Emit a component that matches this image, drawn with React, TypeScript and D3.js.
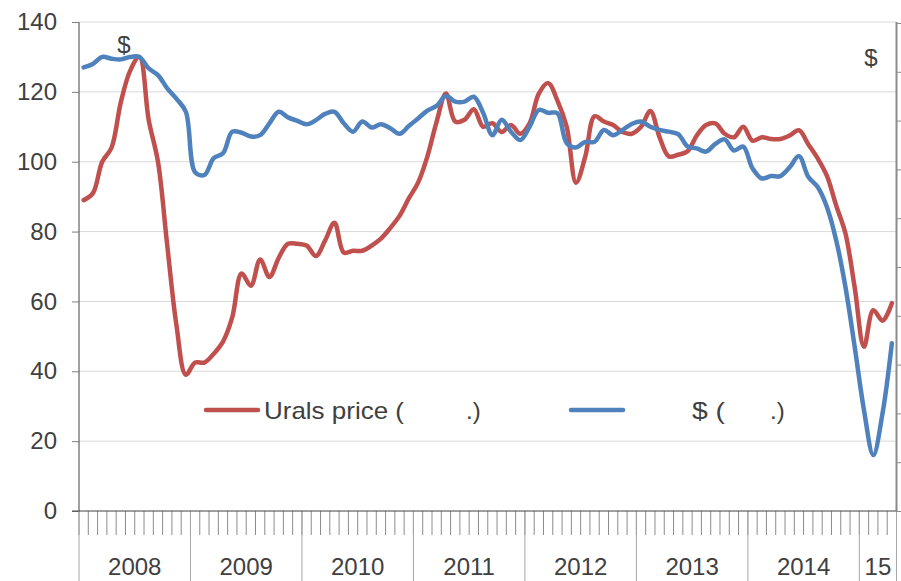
import React, { useEffect, useRef } from "react";
import * as d3 from "d3";

// year labels under the x axis (last one is a partial year)
const yearLabels = ["2008", "2009", "2010", "2011", "2012", "2013", "2014", "15"];
const yTicks = [0, 20, 40, 60, 80, 100, 120, 140];

// monthly values, Jan 2008 .. Apr 2015
const uralsPrice = [
  89, 91, 100, 104, 117, 126, 130, 112, 100, 76, 53, 39,
  42.5, 42.5, 45, 48.5, 55.5, 68, 64.5, 72, 67, 72.5, 76.5, 76.5,
  76, 73, 77.5, 82.5, 74, 74.5, 74.5, 76, 78, 81, 84.5, 89.5,
  94, 101.5, 111.5, 119.5, 111.5, 112, 115, 110, 111, 108.5, 110.5, 108,
  111, 119.5, 122.5, 117.5, 110, 94, 101.5, 113, 111.5, 110.5, 108.5, 108,
  110, 114.5, 107, 101.5, 102, 103, 107.5, 110.5, 111, 108, 107, 110,
  106, 107, 106.5, 106.5, 107.5, 109, 105, 101, 96, 87.5, 79.5, 64,
  47, 57.5, 54.5, 59.5,
];

const dollarSeries = [
  127, 128, 130, 129.5, 129.3, 130, 130, 126.7, 124.8, 121, 118, 114.3,
  97, 96.2, 101, 102.4, 108.6, 108.3, 107.2, 107.6, 111, 114.3, 112.7, 111.7,
  110.7, 111.9, 113.7, 114.3, 111, 108.6, 111.5, 109.8, 110.7, 109.6, 108, 110.2,
  112.4, 114.6, 116, 118.8, 117.2, 117.2, 118.6, 114, 107.6, 112, 108.6, 106.2,
  110, 114.8, 114, 113.9, 105.3, 104.1, 105.7, 105.7, 109.1, 107.6, 109.1, 110.8,
  111.5, 110, 109.1, 108.6, 107.9, 104.4, 103.8, 102.9, 105.1, 106.4, 103.2, 104.3,
  98.1, 95.2, 95.9, 95.9, 98.4, 101.6, 95.7, 92.8, 87.1, 77.6, 64.2, 47,
  28.9, 16, 28, 48,
];

const RED = "#C0504D";
const BLUE = "#4F81BD";
const TEXT = "#404040";
const FONT = "'Liberation Sans', Arial, sans-serif";

function App() {
  const svgRef = useRef<SVGSVGElement>(null);

  useEffect(() => {
    const width = 901;
    const height = 581;
    const margin = { top: 22, right: 4.5, bottom: 70, left: 79 };

    const svg = d3.select(svgRef.current);
    svg.selectAll("*").remove();
    svg.attr("width", width).attr("height", height);

    const innerW = width - margin.left - margin.right;
    const innerH = height - margin.top - margin.bottom;
    const nMonths = uralsPrice.length; // 88 months in the period

    const x = d3.scaleLinear().domain([0, nMonths]).range([margin.left, margin.left + innerW]);
    const y = d3.scaleLinear().domain([0, 140]).range([margin.top + innerH, margin.top]);
    const yRight = d3.scaleLinear().domain([0, 10]).range([margin.top + innerH, margin.top + 1]);

    const x0 = margin.left;
    const x1 = margin.left + innerW;
    const y0 = margin.top + innerH;

    /* grid */
    svg
      .append("g")
      .selectAll("line")
      .data(yTicks.filter((t) => t > 0))
      .enter()
      .append("line")
      .attr("x1", x0)
      .attr("x2", x1)
      .attr("y1", (d) => y(d))
      .attr("y2", (d) => y(d))
      .attr("stroke", "#d9d9d9")
      .attr("stroke-width", 1);

    /* left axis */
    const left = svg.append("g").attr("transform", `translate(${x0},0)`);
    left
      .call(d3.axisLeft(y).tickValues(yTicks).tickSize(7).tickPadding(15))
      .call((g) => g.select(".domain").attr("stroke", TEXT).attr("d", `M0,${y0}V${margin.top}`))
      .call((g) => g.selectAll("line").attr("stroke", "#7f7f7f"))
      .call((g) =>
        g
          .selectAll("text")
          .attr("fill", TEXT)
          .style("font-family", FONT)
          .style("font-size", "24px")
      );

    /* right axis (ticks only) */
    const right = svg.append("g").attr("transform", `translate(${x1},0)`);
    right
      .call(d3.axisRight(yRight).ticks(10).tickSize(5).tickFormat(() => ""))
      .call((g) =>
        g.select(".domain").attr("stroke", "#8c8c8c").attr("stroke-width", 2).attr("d", `M0,${y0}V${margin.top}`)
      )
      .call((g) => g.selectAll("line").attr("stroke", "#8c8c8c"));

    /* x axis: month ticks + year separators */
    const xAxis = svg.append("g");
    xAxis
      .selectAll(".m")
      .data(d3.range(0, nMonths + 1))
      .enter()
      .append("line")
      .attr("x1", (d) => x(d))
      .attr("x2", (d) => x(d))
      .attr("y1", y0)
      .attr("y2", y0 + 24)
      .attr("stroke", "#8c8c8c")
      .attr("stroke-width", 1);

    xAxis
      .selectAll(".yr")
      .data(d3.range(0, yearLabels.length + 1))
      .enter()
      .append("line")
      .attr("x1", (d) => x(Math.min(d * 12, nMonths)))
      .attr("x2", (d) => x(Math.min(d * 12, nMonths)))
      .attr("y1", y0)
      .attr("y2", height)
      .attr("stroke", "#a6a6a6")
      .attr("stroke-width", 1);

    xAxis
      .append("line")
      .attr("x1", x0 - 7)
      .attr("x2", x1)
      .attr("y1", y0)
      .attr("y2", y0)
      .attr("stroke", TEXT);

    xAxis
      .selectAll("text")
      .data(yearLabels)
      .enter()
      .append("text")
      .attr("x", (d, i) => (x(i * 12) + x(Math.min(i * 12 + 12, nMonths))) / 2)
      .attr("y", 575)
      .attr("text-anchor", "middle")
      .attr("fill", TEXT)
      .style("font-family", FONT)
      .style("font-size", "24px")
      .text((d) => d);

    /* lines */
    const line = d3
      .line<number>()
      .x((d, i) => x(i + 0.5))
      .y((d) => y(d))
      .curve(d3.curveCatmullRom.alpha(0.5));

    svg
      .append("path")
      .datum(uralsPrice)
      .attr("d", line)
      .attr("fill", "none")
      .attr("stroke", RED)
      .attr("stroke-width", 4.5)
      .attr("stroke-linejoin", "round")
      .attr("stroke-linecap", "round");

    svg
      .append("path")
      .datum(dollarSeries)
      .attr("d", line)
      .attr("fill", "none")
      .attr("stroke", BLUE)
      .attr("stroke-width", 4.5)
      .attr("stroke-linejoin", "round")
      .attr("stroke-linecap", "round");

    /* unit labels */
    const label = (tx: number, ty: number, s: string, anchor = "start", len = 0) => {
      const t = svg
        .append("text")
        .attr("x", tx)
        .attr("y", ty)
        .attr("text-anchor", anchor)
        .attr("fill", TEXT)
        .style("font-family", FONT)
        .style("font-size", "24px")
        .text(s);
      if (len) t.attr("textLength", len).attr("lengthAdjust", "spacingAndGlyphs");
      return t;
    };

    label(124, 53, "$", "middle");
    label(871, 66, "$", "middle");

    /* legend */
    const legend = svg.append("g");
    legend
      .append("line")
      .attr("x1", 206)
      .attr("x2", 258)
      .attr("y1", 410)
      .attr("y2", 410)
      .attr("stroke", RED)
      .attr("stroke-width", 4.5)
      .attr("stroke-linecap", "round");
    legend
      .append("line")
      .attr("x1", 571)
      .attr("x2", 623)
      .attr("y1", 410)
      .attr("y2", 410)
      .attr("stroke", BLUE)
      .attr("stroke-width", 4.5)
      .attr("stroke-linecap", "round");

    label(264, 419, "Urals price (", "start", 140);
    label(466, 419, ".)");
    label(692, 419, "$ (", "start", 33);
    label(770, 419, ".)");
  }, []);

  return (
    <div style={{ position: "absolute", left: 0, top: 0, background: "#fff" }}>
      <svg ref={svgRef} style={{ display: "block" }}></svg>
    </div>
  );
}

export default App;
